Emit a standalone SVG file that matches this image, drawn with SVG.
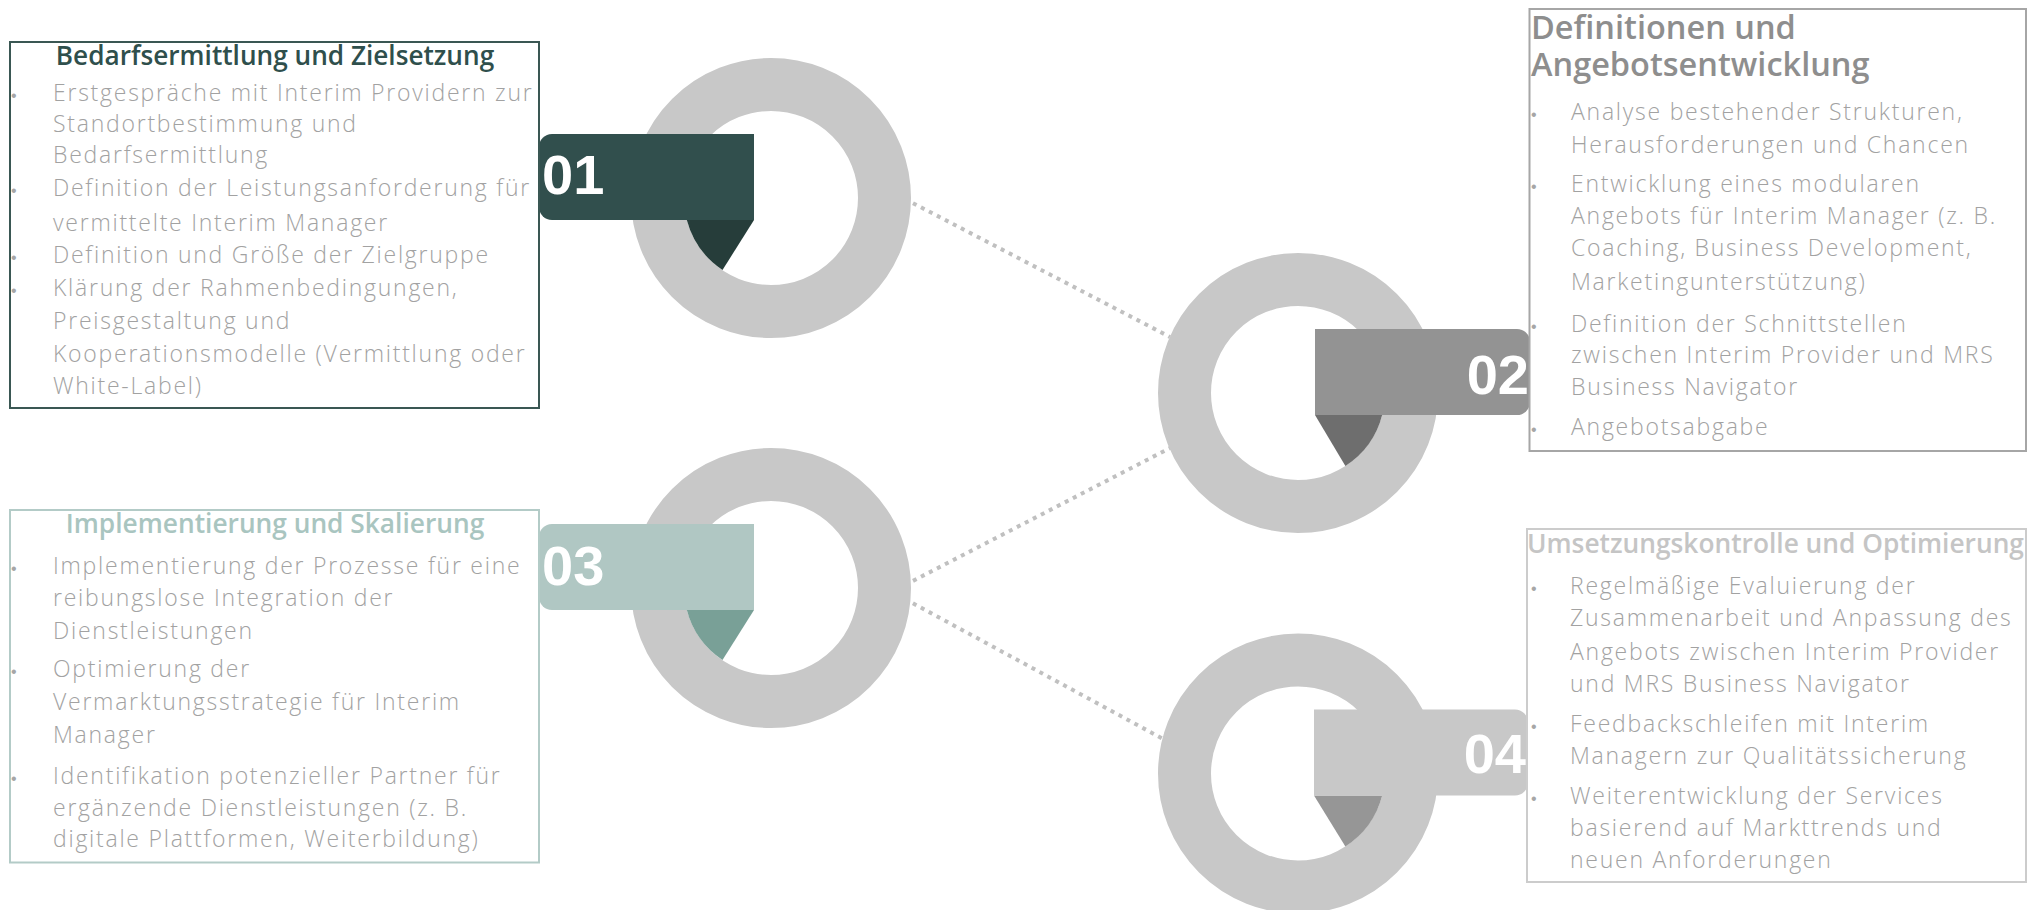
<svg xmlns="http://www.w3.org/2000/svg" width="2043" height="910" viewBox="0 0 2043 910">
<style>
.bg{fill:#ffffff}
.ring{fill:none;stroke:#c8c8c8;stroke-width:53}
.conn{fill:none;stroke:#c0c0c0;stroke-width:4;stroke-dasharray:4 5}
.box{fill:none;stroke-width:2}
.t{font-family:"Open Sans","Liberation Sans",sans-serif;font-weight:600}
.b{font-family:"Open Sans","Liberation Sans",sans-serif;font-weight:300;font-size:23px;letter-spacing:1.75px;fill:#a2a2a2}
.d{font-family:"Liberation Sans",sans-serif;font-size:16px;fill:#a6a6a6}
.num{font-family:"Liberation Sans",sans-serif;font-weight:700;font-size:56px;fill:#ffffff}
</style>
<rect class="bg" x="0" y="0" width="2043" height="910"/>
<g id="connectors">
<line class="conn" x1="905" y1="199" x2="1170" y2="337"/>
<line class="conn" x1="905" y1="585" x2="1172" y2="447"/>
<line class="conn" x1="905" y1="599" x2="1165" y2="740"/>
</g>
<g id="step1">
<circle class="ring" cx="771" cy="198" r="113.5"/>
<path d="M754,220 L722.5,270 A87,87 0 0 1 686.8,220 Z" fill="#263d3a"/>
<path d="M754,134 H552 A13,13 0 0 0 539,147 V207 A13,13 0 0 0 552,220 H754 Z" fill="#314f4d"/>
<text class="num" x="542" y="194">01</text>
</g>
<g id="step2">
<circle class="ring" cx="1298" cy="393" r="113.5"/>
<path d="M1315,415 L1345.4,466 A87,87 0 0 0 1382.2,415 Z" fill="#6e6e6e"/>
<path d="M1315,329 H1517 A13,13 0 0 1 1530,342 V402 A13,13 0 0 1 1517,415 H1315 Z" fill="#939393"/>
<text class="num" x="1529" y="394" text-anchor="end">02</text>
</g>
<g id="step3">
<circle class="ring" cx="771" cy="588" r="113.5"/>
<path d="M754,610 L722.5,660 A87,87 0 0 1 686.8,610 Z" fill="#79a097"/>
<path d="M754,524 H552 A13,13 0 0 0 539,537 V597 A13,13 0 0 0 552,610 H754 Z" fill="#b0c7c3"/>
<text class="num" x="542" y="585">03</text>
</g>
<g id="step4">
<circle class="ring" cx="1298" cy="773.5" r="113.5"/>
<path d="M1314,795.5 L1345.4,846.5 A87,87 0 0 0 1382.2,795.5 Z" fill="#969696"/>
<path d="M1314,709.5 H1515 A13,13 0 0 1 1528,722.5 V782.5 A13,13 0 0 1 1515,795.5 H1314 Z" fill="#c8c8c8"/>
<text class="num" x="1526" y="773" text-anchor="end">04</text>
</g>
<g id="box1">
<rect class="box" x="10" y="42" width="529" height="366" stroke="#3a5753"/>
<text class="t" x="275" y="65" font-size="26.2" fill="#2f4f4c" text-anchor="middle">Bedarfsermittlung und Zielsetzung</text>
<text class="d" x="11" y="101">•</text><text class="b" x="53" y="101">Erstgespräche mit Interim Providern zur</text>
<text class="b" x="53" y="132">Standortbestimmung und</text>
<text class="b" x="53" y="163">Bedarfsermittlung</text>
<text class="d" x="11" y="196">•</text><text class="b" x="53" y="196">Definition der Leistungsanforderung für</text>
<text class="b" x="53" y="231">vermittelte Interim Manager</text>
<text class="d" x="11" y="263">•</text><text class="b" x="53" y="263">Definition und Größe der Zielgruppe</text>
<text class="d" x="11" y="296">•</text><text class="b" x="53" y="296">Klärung der Rahmenbedingungen,</text>
<text class="b" x="53" y="329">Preisgestaltung und</text>
<text class="b" x="53" y="362">Kooperationsmodelle (Vermittlung oder</text>
<text class="b" x="53" y="394">White-Label)</text>
</g>
<g id="box2">
<rect class="box" x="1529.5" y="9" width="496.5" height="442" stroke="#a6a6a6"/>
<text class="t" x="1531" y="39" font-size="32.5" fill="#8e8e8e">Definitionen und</text>
<text class="t" x="1531" y="76" font-size="32.5" fill="#8e8e8e">Angebotsentwicklung</text>
<text class="d" x="1531" y="120">•</text><text class="b" x="1571" y="120">Analyse bestehender Strukturen,</text>
<text class="b" x="1571" y="153">Herausforderungen und Chancen</text>
<text class="d" x="1531" y="192">•</text><text class="b" x="1571" y="192">Entwicklung eines modularen</text>
<text class="b" x="1571" y="224">Angebots für Interim Manager (z. B.</text>
<text class="b" x="1571" y="256">Coaching, Business Development,</text>
<text class="b" x="1571" y="289.5">Marketingunterstützung)</text>
<text class="d" x="1531" y="331.5">•</text><text class="b" x="1571" y="331.5">Definition der Schnittstellen</text>
<text class="b" x="1571" y="362.5">zwischen Interim Provider und MRS</text>
<text class="b" x="1571" y="395">Business Navigator</text>
<text class="d" x="1531" y="434.5">•</text><text class="b" x="1571" y="434.5">Angebotsabgabe</text>
</g>
<g id="box3">
<rect class="box" x="10" y="510" width="529" height="352.5" stroke="#b3cbc7"/>
<text class="t" x="275" y="533" font-size="26.3" fill="#a9c5c0" text-anchor="middle">Implementierung und Skalierung</text>
<text class="d" x="11" y="573.5">•</text><text class="b" x="53" y="573.5">Implementierung der Prozesse für eine</text>
<text class="b" x="53" y="605.5">reibungslose Integration der</text>
<text class="b" x="53" y="638.5">Dienstleistungen</text>
<text class="d" x="11" y="676.5">•</text><text class="b" x="53" y="676.5">Optimierung der</text>
<text class="b" x="53" y="710">Vermarktungsstrategie für Interim</text>
<text class="b" x="53" y="743">Manager</text>
<text class="d" x="11" y="783.5">•</text><text class="b" x="53" y="783.5">Identifikation potenzieller Partner für</text>
<text class="b" x="53" y="815.5">ergänzende Dienstleistungen (z. B.</text>
<text class="b" x="53" y="847">digitale Plattformen, Weiterbildung)</text>
</g>
<g id="box4">
<rect class="box" x="1527" y="529" width="499" height="353" stroke="#cccccc"/>
<text class="t" x="1527" y="553" font-size="26.3" fill="#c5c5c5">Umsetzungskontrolle und Optimierung</text>
<text class="d" x="1531" y="593.5">•</text><text class="b" x="1570" y="593.5">Regelmäßige Evaluierung der</text>
<text class="b" x="1570" y="626">Zusammenarbeit und Anpassung des</text>
<text class="b" x="1570" y="659.5">Angebots zwischen Interim Provider</text>
<text class="b" x="1570" y="692">und MRS Business Navigator</text>
<text class="d" x="1531" y="731.5">•</text><text class="b" x="1570" y="731.5">Feedbackschleifen mit Interim</text>
<text class="b" x="1570" y="763.5">Managern zur Qualitätssicherung</text>
<text class="d" x="1531" y="803.5">•</text><text class="b" x="1570" y="803.5">Weiterentwicklung der Services</text>
<text class="b" x="1570" y="836">basierend auf Markttrends und</text>
<text class="b" x="1570" y="867.5">neuen Anforderungen</text>
</g>
</svg>
